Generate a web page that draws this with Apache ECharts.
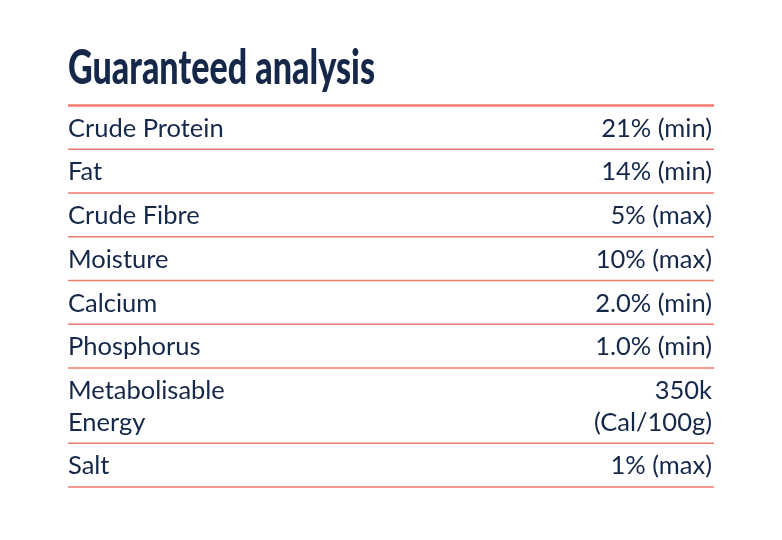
<!DOCTYPE html>
<html>
<head>
<meta charset="utf-8">
<script src="https://cdn.jsdelivr.net/npm/echarts@6/dist/echarts.min.js"></script>
<style>
html,body{margin:0;padding:0;background:#fff;}
#chart{width:782px;height:540px;}
</style>
</head>
<body>
<div id="chart"></div>
<script>
const titleText = 'Guaranteed analysis';
const rowLabels = ['Crude Protein','Fat','Crude Fibre','Moisture','Calcium','Phosphorus','Metabolisable\nEnergy','Salt'];
const rowValues = ['21% (min)','14% (min)','5% (max)','10% (max)','2.0% (min)','1.0% (min)','350k\n(Cal/100g)','1% (max)'];

const NAVY = '#15284a';
const CORAL = '#f37b6b';
const EXTRA_LINE = 0.72;
const TITLE_FONT = '900 48px Lato';
const TITLE_WIDTH = 307;

// row extents on the y scale, derived from the number of text lines in each row
const rows = [];
let acc = 0;
rowLabels.forEach(function (lab, i) {
  const lines = Math.max(lab.split('\n').length, rowValues[i].split('\n').length);
  const h = 1 + (lines - 1) * EXTRA_LINE;
  rows.push([acc, acc + h, i]);
  acc += h;
});
const total = acc;

// condense the title to the width of the brush lettering
const ctx = document.createElement('canvas').getContext('2d');
ctx.font = TITLE_FONT;
const titleScale = TITLE_WIDTH / ctx.measureText(titleText).width;

const chart = echarts.init(document.getElementById('chart'));
chart.setOption({
  backgroundColor: '#fff',
  animation: false,
  graphic: [{
    type: 'text',
    x: 68,
    y: 69,
    scaleX: titleScale,
    style: {
      text: titleText,
      font: TITLE_FONT,
      fill: NAVY,
      textAlign: 'left',
      textVerticalAlign: 'middle'
    }
  }],
  grid: { left: 68, right: 68, top: 105.5, bottom: 53 },
  xAxis: { type: 'value', min: 0, max: 1, show: false },
  yAxis: { type: 'value', min: 0, max: total, inverse: true, show: false },
  series: [{
    type: 'custom',
    data: rows,
    renderItem: function (params, api) {
      const s = api.value(0), e = api.value(1), idx = api.value(2);
      const pS = api.coord([0, s]);
      const pE = api.coord([1, e]);
      const x0 = pS[0], x1 = pE[0];
      const yTop = pS[1], yBot = pE[1];
      const mid = (yTop + yBot) / 2 + 1;
      const font = '400 25.5px Lato';
      const children = [
        { type: 'text', style: { text: rowLabels[idx], x: x0, y: mid, fill: NAVY, font: font, textAlign: 'left', textVerticalAlign: 'middle', lineHeight: 32 } },
        { type: 'text', style: { text: rowValues[idx], x: x1 - 2, y: mid, fill: NAVY, font: font, textAlign: 'right', textVerticalAlign: 'middle', lineHeight: 32 } },
        { type: 'line', shape: { x1: x0, y1: yBot, x2: x1, y2: yBot }, style: { stroke: CORAL, lineWidth: 1.5 } }
      ];
      if (idx === 0) {
        children.push({ type: 'line', shape: { x1: x0, y1: yTop, x2: x1, y2: yTop }, style: { stroke: CORAL, lineWidth: 2.5 } });
      }
      return { type: 'group', children: children };
    }
  }]
});
</script>
</body>
</html>
